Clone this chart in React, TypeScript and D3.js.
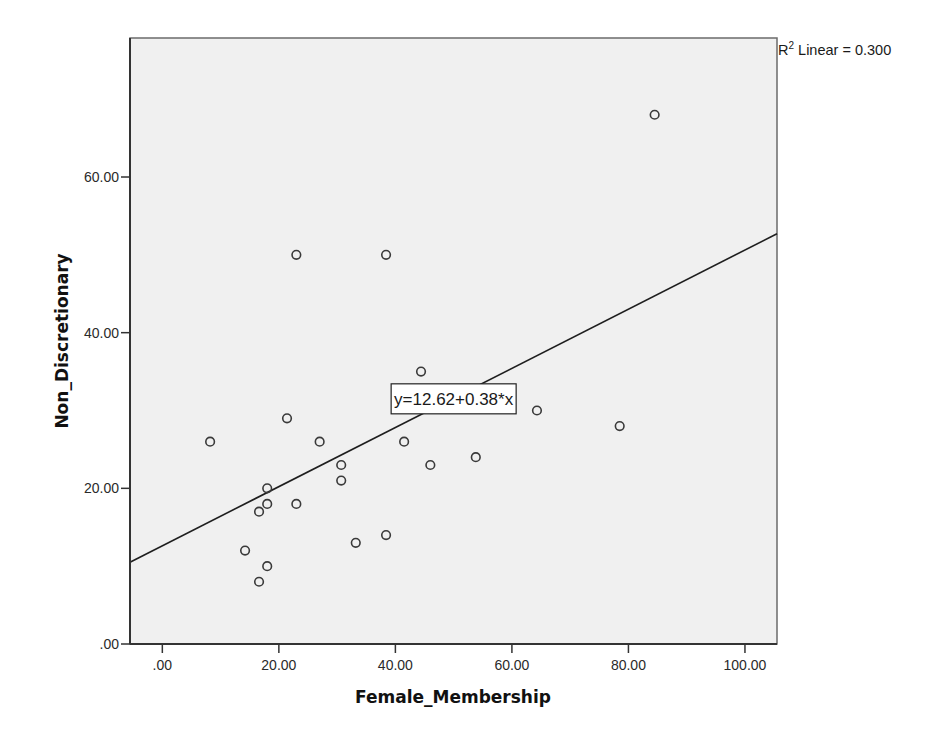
import React from "react";
import * as d3 from "d3";

// values
const femaleMembership = [84.5, 23, 38.4, 44.4, 64.3, 78.5, 8.2, 21.4, 27, 41.5, 46, 53.8, 30.7, 30.7, 18, 18, 23, 16.6, 14.2, 33.2, 38.4, 18, 16.6];
const nonDiscretionary = [68, 50, 50, 35, 30, 28, 26, 29, 26, 26, 23, 24, 23, 21, 20, 18, 18, 17, 12, 13, 14, 10, 8];

const xTicks = [0, 20, 40, 60, 80, 100];
const yTicks = [0, 20, 40, 60];

const intercept = 12.62;
const slope = 0.38;
const rSquared = "0.300";

const fmt = (v: number) => (v === 0 ? ".00" : v.toFixed(2));

const App = () => {
  const width = 941;
  const height = 729;
  const plot = { left: 130, right: 777, top: 38, bottom: 644 };

  const x = d3.scaleLinear().domain([-5.55, 105.5]).range([plot.left, plot.right]);
  const y = d3.scaleLinear().domain([0, 77.86]).range([plot.bottom, plot.top]);

  const [x0, x1] = x.domain();
  const fitLine = d3.line<number>()
    .x((d) => x(d))
    .y((d) => y(intercept + slope * d));

  const points = femaleMembership.map((v, i) => ({ fx: v, ny: nonDiscretionary[i] }));

  // equation label sits near the middle of the fit line
  const labelX = x(50);
  const labelY = y(31.5);
  const boxW = 125;
  const boxH = 30;

  const font = "'Liberation Sans', Arial, sans-serif";

  return (
    <svg width={width} height={height} style={{ position: "absolute", left: 0, top: 0, background: "#fff" }}>
      {/* plot frame */}
      <rect
        x={plot.left}
        y={plot.top}
        width={plot.right - plot.left}
        height={plot.bottom - plot.top}
        fill="#f0f0f0"
        stroke="#6b6b6b"
        strokeWidth={1.5}
      />

      {/* fit line */}
      <path d={fitLine([x0, x1]) ?? ""} fill="none" stroke="#1e1e1e" strokeWidth={1.6} />

      {/* points */}
      {points.map((p, i) => (
        <circle key={i} cx={x(p.fx)} cy={y(p.ny)} r={4.3} fill="none" stroke="#3a3a3a" strokeWidth={1.6} />
      ))}

      {/* equation label */}
      <rect x={labelX - boxW / 2} y={labelY - boxH / 2} width={boxW} height={boxH} fill="#fff" stroke="#222" strokeWidth={1.2} />
      <text x={labelX} y={labelY + 6} textAnchor="middle" fontFamily={font} fontSize={17} fill="#1a1a1a">
        y={intercept.toFixed(2)}+{slope.toFixed(2)}*x
      </text>

      {/* axis lines */}
      <line x1={plot.left} x2={plot.left} y1={plot.top} y2={plot.bottom} stroke="#333" strokeWidth={2} />
      <line x1={plot.left} x2={plot.right} y1={plot.bottom} y2={plot.bottom} stroke="#333" strokeWidth={2} />

      {/* y ticks */}
      {yTicks.map((t) => (
        <g key={t}>
          <line x1={plot.left - 9} x2={plot.left} y1={y(t)} y2={y(t)} stroke="#333" strokeWidth={1.5} />
          <text x={plot.left - 11} y={y(t) + 5} textAnchor="end" fontFamily={font} fontSize={14} fill="#2a2a2a">
            {fmt(t)}
          </text>
        </g>
      ))}

      {/* x ticks */}
      {xTicks.map((t) => (
        <g key={t}>
          <line x1={x(t)} x2={x(t)} y1={plot.bottom} y2={plot.bottom + 9} stroke="#333" strokeWidth={1.5} />
          <text x={x(t)} y={plot.bottom + 26} textAnchor="middle" fontFamily={font} fontSize={14} fill="#2a2a2a">
            {fmt(t)}
          </text>
        </g>
      ))}

      {/* axis titles */}
      <text x={453} y={703} textAnchor="middle" fontFamily="'DejaVu Sans', sans-serif" fontWeight="bold" fontSize={17} fill="#111">
        Female_Membership
      </text>
      <text
        transform={`translate(68, ${341}) rotate(-90)`}
        textAnchor="middle"
        fontFamily="'DejaVu Sans', sans-serif"
        fontWeight="bold"
        fontSize={17}
        fill="#111"
      >
        Non_Discretionary
      </text>

      {/* R squared */}
      <text x={778} y={55} fontFamily={font} fontSize={14.5} fill="#1a1a1a">
        R<tspan dy={-6} fontSize={10}>2</tspan>
        <tspan dy={6}> Linear = {rSquared}</tspan>
      </text>
    </svg>
  );
};

export default App;
